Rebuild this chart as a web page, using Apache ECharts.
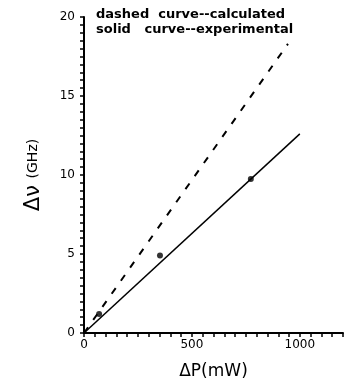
<!DOCTYPE html>
<html>
<head>
<meta charset="utf-8">
<script src="https://cdn.jsdelivr.net/npm/echarts@6/dist/echarts.min.js"></script>
<style>
  html, body { margin: 0; padding: 0; background: #fff; }
  #chart { width: 347px; height: 385px; }
</style>
</head>
<body>
<div id="chart"></div>
<script>
// solid = experimental fit, dashed = calculated
const solidLine = [[0, 0], [1000, 12.6]];
const dashedLine = [[0, 0], [945, 18.3]];
const measured = [[70, 1.2], [352, 4.9], [773, 9.75]];
const legendLines = ['dashed  curve--calculated', 'solid   curve--experimental'];

const chart = echarts.init(document.getElementById('chart'));

chart.setOption({
  backgroundColor: '#fff',
  animation: false,
  grid: { left: 84, right: 4, top: 17, bottom: 48 },
  xAxis: {
    type: 'value',
    min: 0,
    max: 1200,
    interval: 50,
    name: 'ΔP(mW)',
    nameLocation: 'middle',
    nameGap: 30,
    nameTextStyle: { color: '#000', fontSize: 17, fontFamily: 'DejaVu Sans' },
    axisLine: { lineStyle: { color: '#000', width: 2 } },
    axisTick: { inside: false, length: 4, lineStyle: { color: '#000', width: 1.5 } },
    axisLabel: {
      color: '#000', fontSize: 12, fontFamily: 'DejaVu Sans', margin: 6,
      formatter: v => (v % 500 === 0 ? String(v) : '')
    },
    splitLine: { show: false }
  },
  yAxis: {
    type: 'value',
    min: 0,
    max: 20,
    interval: 0.5,
    name: '{a|Δν}  {b|(GHz)}',
    nameLocation: 'middle',
    nameGap: 40,
    nameRotate: 90,
    nameTextStyle: {
      color: '#000',
      rich: {
        a: { fontSize: 21, fontFamily: 'DejaVu Sans', color: '#000' },
        b: { fontSize: 14, fontFamily: 'DejaVu Sans', color: '#000' }
      }
    },
    axisLine: { lineStyle: { color: '#000', width: 2 } },
    axisTick: { inside: false, length: 4, lineStyle: { color: '#000', width: 1.5 } },
    axisLabel: {
      color: '#000', fontSize: 12, fontFamily: 'DejaVu Sans', margin: 9,
      formatter: v => (v % 5 === 0 ? String(v) : '')
    },
    splitLine: { show: false }
  },
  graphic: legendLines.map((t, i) => ({
    type: 'text',
    left: 96,
    top: 8 + i * 15,
    style: { text: t, fill: '#000', font: 'bold 13px "DejaVu Sans"' }
  })),
  series: [
    {
      type: 'line',
      data: solidLine,
      symbol: 'none',
      lineStyle: { color: '#000', width: 1.5 }
    },
    {
      type: 'line',
      data: dashedLine,
      symbol: 'none',
      lineStyle: { color: '#000', width: 2, type: [7, 9] }
    },
    {
      type: 'scatter',
      data: measured,
      symbol: 'circle',
      symbolSize: 6,
      itemStyle: { color: '#000' }
    }
  ]
});
</script>
</body>
</html>
